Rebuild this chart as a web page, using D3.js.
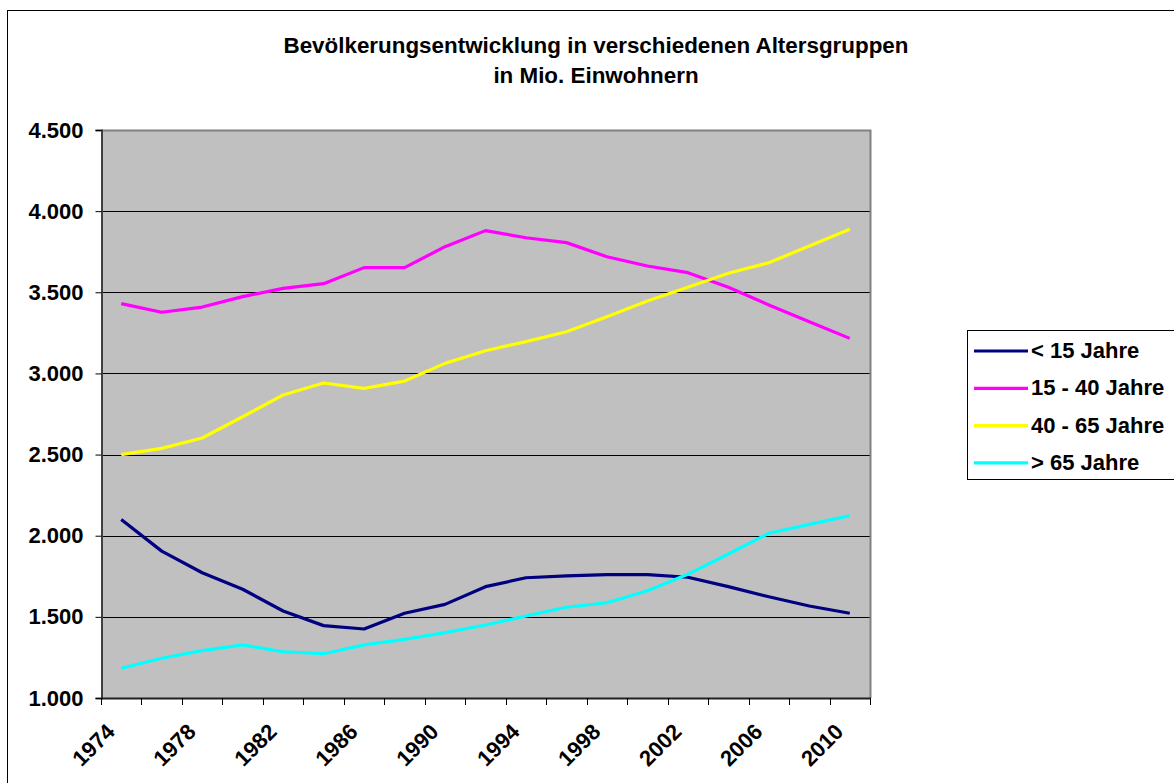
<!DOCTYPE html>
<html>
<head>
<meta charset="utf-8">
<script src="https://cdn.jsdelivr.net/npm/d3@7"></script>
<style>
	body { margin: 0; background: #fff; }
	svg { display: block; font-family: Arial, "Liberation Sans", sans-serif; font-weight: bold; }
</style>
</head>
<body>
<div id="chart"></div>
<script>
var years = [1974, 1976, 1978, 1980, 1982, 1984, 1986, 1988, 1990, 1992,
	1994, 1996, 1998, 2000, 2002, 2004, 2006, 2008, 2010];
var under15 = [2100, 1905, 1772, 1670, 1536, 1446, 1425, 1522, 1577, 1686,
	1741, 1752, 1760, 1760, 1744, 1686, 1624, 1567, 1522];
var age15to40 = [3430, 3377, 3409, 3473, 3524, 3553, 3652, 3652, 3781, 3880,
	3836, 3806, 3719, 3662, 3621, 3531, 3422, 3319, 3216];
var age40to65 = [2500, 2538, 2602, 2733, 2867, 2941, 2908, 2953, 3062, 3140,
	3196, 3257, 3350, 3446, 3531, 3617, 3682, 3785, 3888];
var over65 = [1183, 1245, 1292, 1327, 1285, 1273, 1327, 1361, 1403, 1450,
	1505, 1559, 1587, 1661, 1762, 1887, 2015, 2070, 2123];
var seriesNames = ["< 15 Jahre", "15 - 40 Jahre", "40 - 65 Jahre", "> 65 Jahre"];
var seriesColors = ["#000080", "#ff00ff", "#ffff00", "#00ffff"];
var yTicks = [1000, 1500, 2000, 2500, 3000, 3500, 4000, 4500];
var titleLines = ["Bevölkerungsentwicklung in verschiedenen Altersgruppen", "in Mio. Einwohnern"];

var series = [under15, age15to40, age40to65, over65];

var W = 1174, H = 783;
var plot = { left: 101, right: 870, top: 130, bottom: 698 };

var svg = d3.select("#chart").append("svg")
	.attr("width", W)
	.attr("height", H);

/* outer chart frame, runs off the right and bottom edge */
svg.append("rect")
	.attr("x", 7.5).attr("y", 10.5)
	.attr("width", 1250).attr("height", 850)
	.attr("fill", "#fff")
	.attr("stroke", "#000");

var x = d3.scaleBand().domain(years).range([plot.left, plot.right]).padding(0);
var y = d3.scaleLinear().domain([1000, 4500]).range([plot.bottom, plot.top]);

var de = d3.formatLocale({ decimal: ",", thousands: ".", grouping: [3], currency: ["", " €"] });
var fmt = de.format(",d");

// plot background
svg.append("rect")
	.attr("x", plot.left).attr("y", plot.top)
	.attr("width", plot.right - plot.left)
	.attr("height", plot.bottom - plot.top)
	.attr("fill", "#c0c0c0");

// gridlines
svg.append("g").selectAll("line")
	.data(yTicks.slice(1, -1))
	.join("line")
	.attr("x1", plot.left).attr("x2", plot.right)
	.attr("y1", function (d) { return Math.round(y(d)) + 0.5; })
	.attr("y2", function (d) { return Math.round(y(d)) + 0.5; })
	.attr("stroke", "#000")
	.attr("stroke-width", 1);

// plot frame top/right
svg.append("path")
	.attr("d", "M" + plot.left + "," + (plot.top + 0.5) + "H" + (plot.right + 0.5) + "V" + plot.bottom)
	.attr("fill", "none")
	.attr("stroke", "#808080")
	.attr("stroke-width", 2);

// y axis
var yAxis = svg.append("g")
	.attr("transform", "translate(" + (plot.left + 0.5) + ",0)")
	.call(d3.axisLeft(y).tickValues(yTicks).tickFormat(fmt).tickSize(6).tickPadding(12));
yAxis.select(".domain").attr("stroke", "#404040").attr("stroke-width", 2);
yAxis.selectAll(".tick line").attr("stroke", "#000");
yAxis.selectAll(".tick text")
	.attr("fill", "#000")
	.style("font-size", "22px")
	.style("font-family", "Arial, 'Liberation Sans', sans-serif")
	.style("font-weight", "bold");

// x axis line + ticks at category edges
var xg = svg.append("g");
xg.append("line")
	.attr("x1", plot.left).attr("x2", plot.right + 1)
	.attr("y1", plot.bottom + 0.5).attr("y2", plot.bottom + 0.5)
	.attr("stroke", "#202020").attr("stroke-width", 2);
var edges = years.map(function (d) { return x(d); }).concat([x.range()[1]]);
xg.selectAll("line.tick")
	.data(edges)
	.join("line")
	.attr("class", "tick")
	.attr("x1", function (d) { return Math.round(d) + 0.5; })
	.attr("x2", function (d) { return Math.round(d) + 0.5; })
	.attr("y1", plot.bottom)
	.attr("y2", plot.bottom + 7)
	.attr("stroke", "#000");

xg.selectAll("text")
	.data(years.filter(function (d, i) { return i % 2 === 0; }))
	.join("text")
	.attr("transform", function (d) {
		return "translate(" + (x(d) + x.bandwidth() / 2 - 5) + "," + 733 + ") rotate(-45)";
	})
	.attr("text-anchor", "end")
	.style("font-size", "22px")
	.text(function (d) { return d; });

// lines
var line = d3.line()
	.x(function (d, i) { return x(years[i]) + x.bandwidth() / 2; })
	.y(function (d) { return y(d); });

svg.append("g").selectAll("path")
	.data(series)
	.join("path")
	.attr("d", line)
	.attr("fill", "none")
	.attr("stroke", function (d, i) { return seriesColors[i]; })
	.attr("stroke-width", 3.2)
	.attr("stroke-linejoin", "round");

// title
svg.append("text")
	.attr("x", 596)
	.attr("text-anchor", "middle")
	.style("font-size", "22.4px")
	.selectAll("tspan")
	.data(titleLines)
	.join("tspan")
	.attr("x", 596)
	.attr("y", function (d, i) { return 53 + i * 30; })
	.text(function (d) { return d; });

// legend
var legend = svg.append("g");
legend.append("rect")
	.attr("x", 967.5).attr("y", 330.5)
	.attr("width", 300).attr("height", 149)
	.attr("fill", "#fff")
	.attr("stroke", "#000");
var rows = legend.selectAll("g.row")
	.data(seriesNames)
	.join("g")
	.attr("class", "row")
	.attr("transform", function (d, i) { return "translate(0," + (351 + i * 37.3) + ")"; });
rows.append("line")
	.attr("x1", 974).attr("x2", 1028)
	.attr("stroke", function (d, i) { return seriesColors[i]; })
	.attr("stroke-width", 3.2);
rows.append("text")
	.attr("x", 1031)
	.attr("y", 7)
	.style("font-size", "22px")
	.text(function (d) { return d; });
</script>
</body>
</html>
